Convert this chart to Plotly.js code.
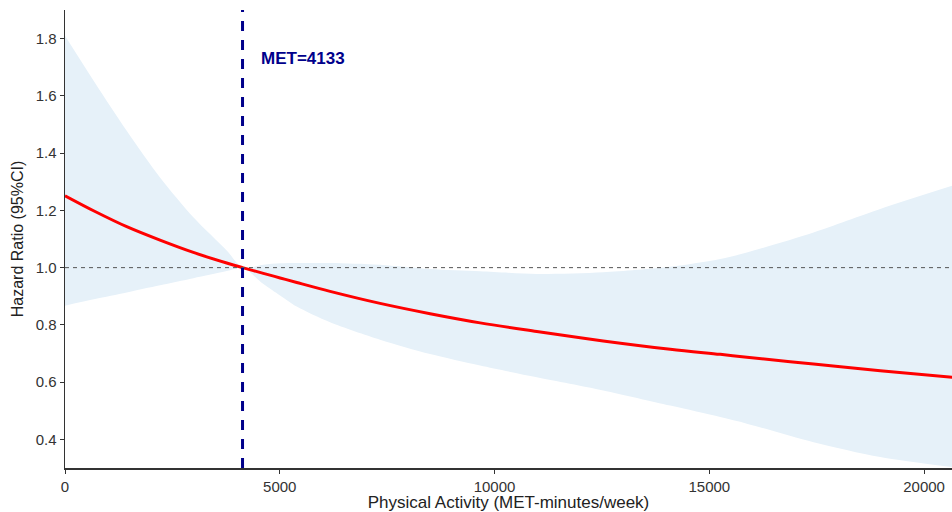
<!DOCTYPE html>
<html>
<head>
<meta charset="utf-8">
<script src="https://cdn.plot.ly/plotly-3.0.1.min.js"></script>
<style>html,body{margin:0;padding:0;background:#fff}#chart{width:952px;height:512px}</style>
</head>
<body>
<div id="chart"></div>
<script>
const metMinutes = [0, 700, 1437, 2212, 2988, 3765, 4133, 4618, 5007, 5395, 6171, 7335, 8500, 9664, 10985, 12530, 14090, 15254, 15875, 17427, 18980, 20656];
const hazardRatio = [1.251, 1.196, 1.143, 1.096, 1.053, 1.016, 1.000, 0.980, 0.964, 0.948, 0.917, 0.875, 0.839, 0.807, 0.777, 0.744, 0.715, 0.697, 0.687, 0.663, 0.640, 0.617];
const ciUpper = [1.81, 1.645, 1.478, 1.315, 1.176, 1.06, 1.0, 1.01, 1.015, 1.016, 1.016, 1.01, 0.995, 0.987, 0.978, 0.984, 1.003, 1.03, 1.053, 1.123, 1.205, 1.286];
const ciLower = [0.867, 0.89, 0.913, 0.938, 0.963, 0.988, 1.0, 0.943, 0.903, 0.864, 0.809, 0.748, 0.698, 0.658, 0.617, 0.571, 0.518, 0.478, 0.455, 0.39, 0.338, 0.303];
const cutoff = 4133;
const xTicks = [0, 5000, 10000, 15000, 20000];
const yTicks = [0.4, 0.6, 0.8, 1.0, 1.2, 1.4, 1.6, 1.8];

const traces = [
  {x: metMinutes, y: ciLower, type: 'scatter', mode: 'lines', line: {width: 0, shape: 'spline', smoothing: 0.8}, hoverinfo: 'skip', showlegend: false},
  {x: metMinutes, y: ciUpper, type: 'scatter', mode: 'lines', fill: 'tonexty', fillcolor: 'rgb(230,241,249)', line: {width: 0, shape: 'spline', smoothing: 0.8}, hoverinfo: 'skip', showlegend: false},
  {x: metMinutes, y: hazardRatio, type: 'scatter', mode: 'lines', line: {color: '#ff0000', width: 3, shape: 'spline', smoothing: 1}, showlegend: false}
];

const layout = {
  width: 952, height: 512,
  margin: {l: 65, r: 0, t: 10, b: 44},
  paper_bgcolor: '#fff', plot_bgcolor: '#fff',
  font: {family: 'Liberation Sans, Arial, sans-serif', color: '#333'},
  xaxis: {
    range: [0, 20650], tickvals: xTicks, tickformat: 'd',
    showgrid: false, zeroline: false, showline: true, linecolor: '#333', linewidth: 1.5,
    ticks: 'outside', ticklen: 4, tickcolor: '#333', tickfont: {size: 15, color: '#333'},
    title: {text: 'Physical Activity (MET-minutes/week)', font: {size: 17, color: '#222'}, standoff: 7}
  },
  yaxis: {
    range: [0.3, 1.9], tickvals: yTicks, tickformat: '.1f',
    showgrid: false, zeroline: false, showline: true, linecolor: '#333', linewidth: 1.5,
    ticks: 'outside', ticklen: 4, tickcolor: '#333', tickfont: {size: 15, color: '#333'},
    title: {text: 'Hazard Ratio (95%CI)', font: {size: 16, color: '#222'}, standoff: 8}
  },
  shapes: [
    {type: 'line', xref: 'paper', x0: 0, x1: 1, yref: 'y', y0: 1, y1: 1, line: {color: '#555', width: 1, dash: '4px,4px'}},
    {type: 'line', xref: 'x', x0: cutoff, x1: cutoff, yref: 'paper', y0: 0, y1: 1, line: {color: '#00008b', width: 3, dash: '10px,9px'}}
  ],
  annotations: [
    {xref: 'x', yref: 'y', x: cutoff, y: 1.73, xshift: 16, xanchor: 'left', yanchor: 'middle', showarrow: false,
     text: '<b>MET=' + cutoff + '</b>', font: {size: 17, color: '#00008b'}}
  ]
};

Plotly.newPlot('chart', traces, layout, {staticPlot: true, displayModeBar: false});
</script>
</body>
</html>
